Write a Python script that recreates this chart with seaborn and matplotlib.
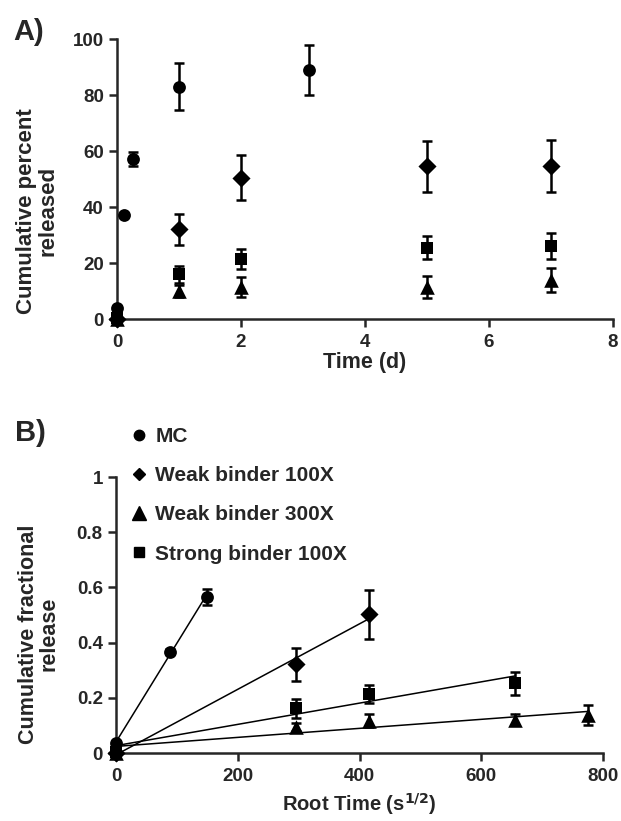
import numpy as np
import pandas as pd
import matplotlib
matplotlib.use("Agg")
import matplotlib.pyplot as plt
import seaborn as sns

# ============================================
# DATA
# ============================================

groups = ["MC", "Weak binder 100X", "Weak binder 300X", "Strong binder 100X"]
markers = {"MC": "o", "Weak binder 100X": "D", "Weak binder 300X": "^", "Strong binder 100X": "s"}
msizes = {"MC": 85, "Weak binder 100X": 85, "Weak binder 300X": 110, "Strong binder 100X": 85}
legend_ms = {"MC": 7.5, "Weak binder 100X": 6.5, "Weak binder 300X": 9.5, "Strong binder 100X": 7}

# panel A : cumulative percent released vs time (d)
a_x = {
    "MC": [0, 0.11, 0.26, 1, 3.1],
    "Weak binder 100X": [0, 1, 2, 5, 7],
    "Weak binder 300X": [0, 1, 2, 5, 7],
    "Strong binder 100X": [0, 1, 2, 5, 7],
}
a_y = {
    "MC": [4, 37, 57, 83, 89],
    "Weak binder 100X": [0, 32, 50.5, 54.5, 54.5],
    "Weak binder 300X": [0, 10, 11.5, 11.5, 14],
    "Strong binder 100X": [0.5, 16, 21.5, 25.5, 26],
}
a_err = {
    "MC": [0, 0, 2.5, 8.5, 9],
    "Weak binder 100X": [0, 5.6, 8, 9, 9.3],
    "Weak binder 300X": [0, 2, 3.5, 4, 4.4],
    "Strong binder 100X": [0, 3, 3.5, 4, 4.6],
}

# panel B : cumulative fractional release vs root time (s^1/2)
b_x = {
    "MC": [0, 88, 149],
    "Weak binder 100X": [0, 296, 415],
    "Weak binder 300X": [0, 296, 415, 656, 775],
    "Strong binder 100X": [0, 296, 415, 656],
}
b_y = {
    "MC": [0.035, 0.367, 0.566],
    "Weak binder 100X": [0, 0.322, 0.502],
    "Weak binder 300X": [0, 0.095, 0.117, 0.12, 0.138],
    "Strong binder 100X": [0.005, 0.162, 0.214, 0.2525],
}
b_err = {
    "MC": [0, 0.01, 0.028],
    "Weak binder 100X": [0, 0.06, 0.088],
    "Weak binder 300X": [0, 0.015, 0.023, 0.02, 0.036],
    "Strong binder 100X": [0, 0.034, 0.032, 0.042],
}

# ============================================
# STYLE
# ============================================

sns.set_style("ticks")
plt.rcParams["font.family"] = ["Liberation Sans", "DejaVu Sans"]
plt.rcParams["font.weight"] = "bold"
plt.rcParams["axes.labelweight"] = "bold"
plt.rcParams["axes.linewidth"] = 1.8
plt.rcParams["xtick.major.width"] = 1.8
plt.rcParams["ytick.major.width"] = 1.8
plt.rcParams["xtick.major.size"] = 5.5
plt.rcParams["ytick.major.size"] = 5.5
plt.rcParams["xtick.major.pad"] = 5
plt.rcParams["ytick.major.pad"] = 4
plt.rcParams["xtick.labelsize"] = 13.5
plt.rcParams["ytick.labelsize"] = 13.5
plt.rcParams["mathtext.default"] = "bf"

fig = plt.figure(figsize=(6.21, 8.21), dpi=100)
axA = fig.add_axes([0.1884, 0.6114, 0.7987, 0.3410])
axB = fig.add_axes([0.1868, 0.0828, 0.7843, 0.3362])


def draw(ax, xs, ys, errs):
    rows = []
    for g in groups:
        for x, y in zip(xs[g], ys[g]):
            rows.append({"x": x, "y": y, "group": g})
    df = pd.DataFrame(rows)
    for g in groups:
        ax.errorbar(xs[g], ys[g], yerr=errs[g], fmt="none", ecolor="black",
                    elinewidth=1.8, capsize=3.8, capthick=1.8, clip_on=False, zorder=2)
        sns.scatterplot(data=df[df["group"] == g], x="x", y="y", marker=markers[g],
                        s=msizes[g], color="black", edgecolor="black", linewidth=0,
                        ax=ax, clip_on=False, zorder=3, legend=False)
    sns.despine(ax=ax)


# ============================================
# PANEL A
# ============================================

draw(axA, a_x, a_y, a_err)
axA.set_xlim(0, 8)
axA.set_ylim(0, 100)
axA.set_xticks([0, 2, 4, 6, 8])
axA.set_yticks([0, 20, 40, 60, 80, 100])
for t in axA.get_xticklabels() + axA.get_yticklabels():
    t.set_fontweight("bold")
axA.set_xlabel("Time (d)", fontsize=15.5, fontweight="bold", va="center")
axA.xaxis.set_label_coords(0.5, -0.155)
axA.set_ylabel("Cumulative percent\nreleased", fontsize=16, fontweight="bold",
               va="center", linespacing=1.0)
axA.yaxis.set_label_coords(-0.161, 0.386)
fig.text(0.021, 0.961, "A)", fontsize=21, fontweight="bold", va="center")

# ============================================
# PANEL B
# ============================================

draw(axB, b_x, b_y, b_err)
for g in groups:
    k, c = np.polyfit(b_x[g], b_y[g], 1)
    xx = np.array([0, max(b_x[g])])
    sns.lineplot(x=xx, y=k * xx + c, color="black", linewidth=1.1, ax=axB, zorder=1)

axB.set_xlim(0, 800)
axB.set_ylim(0, 1)
axB.set_xticks([0, 200, 400, 600, 800])
axB.set_yticks([0, 0.2, 0.4, 0.6, 0.8, 1])
axB.set_yticklabels(["0", "0.2", "0.4", "0.6", "0.8", "1"])
for t in axB.get_xticklabels() + axB.get_yticklabels():
    t.set_fontweight("bold")
axB.set_xlabel("Root Time (s$^{1/2}$)", fontsize=14.5, fontweight="bold", va="center")
axB.xaxis.set_label_coords(0.5, -0.185)
axB.set_ylabel("Cumulative fractional\nrelease", fontsize=15.5, fontweight="bold",
               va="center", linespacing=1.0)
axB.yaxis.set_label_coords(-0.159, 0.431)
fig.text(0.024, 0.473, "B)", fontsize=21, fontweight="bold", va="center")

handles = [plt.Line2D([], [], linestyle="none", marker=markers[g], color="black",
                      markersize=legend_ms[g]) for g in groups]
fig.legend(handles, groups, loc="upper left", bbox_to_anchor=(0.208, 0.48),
           frameon=False, handletextpad=0.35, labelspacing=0.97, handlelength=0.9,
           borderaxespad=0, borderpad=0, prop={"weight": "bold", "size": 15})

fig.savefig("out.png", dpi=100)
